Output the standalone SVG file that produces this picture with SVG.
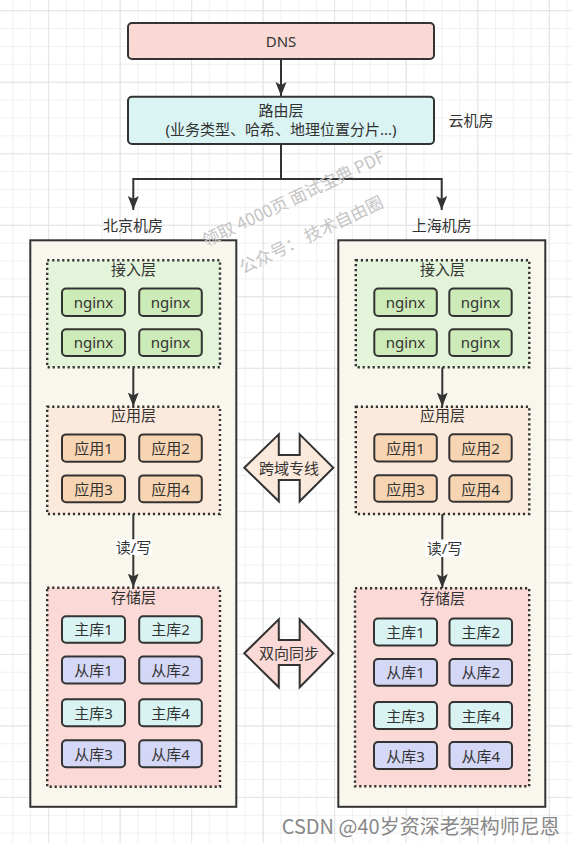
<svg xmlns="http://www.w3.org/2000/svg" width="572" height="843" viewBox="0 0 572 843">
<style>
text{font-family:"Noto Sans","Noto Sans CJK SC",sans-serif;font-size:15px;fill:#333;text-anchor:middle;dominant-baseline:central}
.box{stroke:#333;stroke-width:2}
.outer{fill:#f9f7ed;stroke:#333;stroke-width:2}
.layer{stroke:#333;stroke-width:2.4;stroke-dasharray:2.2 2.8}
.edge{fill:none;stroke:#333;stroke-width:2}
.dns{fill:#fad9d5}
.route{fill:#daf3f3}
.acc{fill:#e4f4da}
.ngx{fill:#cdebb8}
.app{fill:#fbe9db}
.appb{fill:#f8d5b2}
.sto{fill:#fad9d6}
.mst{fill:#d9f3f2}
.slv{fill:#d5d7f6}
.wm{font-family:"Noto Sans CJK SC",sans-serif;font-size:17px;fill:#c4c4c4;text-anchor:start;dominant-baseline:alphabetic}
.foot{font-family:"Noto Sans CJK SC",sans-serif;font-size:20px;fill:#888;text-anchor:start}
</style>
<defs>
<pattern id="gmin" x="12.2" y="10.2" width="17.88" height="17.88" patternUnits="userSpaceOnUse">
<path d="M0.5,0V17.88M0,0.5H17.88" stroke="#f0f0f0" stroke-width="1" fill="none"/>
</pattern>
<pattern id="gmaj" x="48.2" y="10.2" width="71.52" height="71.52" patternUnits="userSpaceOnUse">
<path d="M0.5,0V71.52M0,0.5H71.52" stroke="#e4e4e4" stroke-width="1" fill="none"/>
</pattern>
<marker id="arr" markerUnits="userSpaceOnUse" markerWidth="15" markerHeight="12" refX="14" refY="5.5" orient="auto">
<path d="M0,0 L14,5.5 L0,11 L3,5.5 Z" fill="#333"/>
</marker>
</defs>
<rect width="572" height="843" fill="#fff"/>
<rect width="572" height="843" fill="url(#gmin)"/>
<rect width="572" height="843" fill="url(#gmaj)"/>

<g id="dns"><rect class="box dns" x="128" y="23" width="306" height="36" rx="4"/><text x="281" y="40.5">DNS</text></g>
<g id="routing"><rect class="box route" x="128" y="96.7" width="306" height="47.3" rx="4"/><text x="281" y="110">路由层</text><text x="281" y="129">(业务类型、哈希、地理位置分片...)</text></g>
<g id="cloud-label"><text x="471" y="120">云机房</text></g>

<g id="beijing">
<rect class="outer" x="30.3" y="240.3" width="206" height="566.5"/>
<text x="133" y="225">北京机房</text>
</g>
<g id="shanghai">
<rect class="outer" x="338.3" y="240.3" width="207" height="566.5"/>
<text x="441.7" y="225">上海机房</text>
</g>

<g id="bj-access">
<rect class="layer acc" x="47.2" y="260.3" width="172.8" height="107"/>
<text x="133.6" y="269.3">接入层</text>
<g id="bj-nginx1"><rect class="box ngx" x="62" y="288.5" width="63" height="27.5" rx="4"/><text x="93.5" y="302">nginx</text></g>
<g id="bj-nginx2"><rect class="box ngx" x="139.2" y="288.5" width="62.6" height="27.5" rx="4"/><text x="170.5" y="302">nginx</text></g>
<g id="bj-nginx3"><rect class="box ngx" x="62" y="329.3" width="63" height="26.7" rx="4"/><text x="93.5" y="342.3">nginx</text></g>
<g id="bj-nginx4"><rect class="box ngx" x="139.2" y="329.3" width="62.6" height="26.7" rx="4"/><text x="170.5" y="342.3">nginx</text></g>
</g>
<g id="bj-app">
<rect class="layer app" x="47.2" y="406.7" width="172.8" height="107.3"/>
<text x="133.6" y="415">应用层</text>
<g id="bj-app1"><rect class="box appb" x="62" y="434.4" width="63" height="27.4" rx="4"/><text x="93.5" y="448.1">应用1</text></g>
<g id="bj-app2"><rect class="box appb" x="139.2" y="434.4" width="62.6" height="27.4" rx="4"/><text x="170.5" y="448.1">应用2</text></g>
<g id="bj-app3"><rect class="box appb" x="62" y="475.4" width="63" height="26.8" rx="4"/><text x="93.5" y="488.8">应用3</text></g>
<g id="bj-app4"><rect class="box appb" x="139.2" y="475.4" width="62.6" height="26.8" rx="4"/><text x="170.5" y="488.8">应用4</text></g>
</g>
<g id="bj-storage">
<rect class="layer sto" x="47.2" y="587.7" width="172.8" height="199"/>
<text x="133.6" y="597">存储层</text>
<g id="bj-m1"><rect class="box mst" x="62" y="616.2" width="63" height="26.5" rx="4"/><text x="93.5" y="629.4">主库1</text></g>
<g id="bj-m2"><rect class="box mst" x="139.2" y="616.2" width="62.6" height="26.5" rx="4"/><text x="170.5" y="629.4">主库2</text></g>
<g id="bj-s1"><rect class="box slv" x="62" y="656.5" width="63" height="27" rx="4"/><text x="93.5" y="670">从库1</text></g>
<g id="bj-s2"><rect class="box slv" x="139.2" y="656.5" width="62.6" height="27" rx="4"/><text x="170.5" y="670">从库2</text></g>
<g id="bj-m3"><rect class="box mst" x="62" y="699.2" width="63" height="27" rx="4"/><text x="93.5" y="712.7">主库3</text></g>
<g id="bj-m4"><rect class="box mst" x="139.2" y="699.2" width="62.6" height="27" rx="4"/><text x="170.5" y="712.7">主库4</text></g>
<g id="bj-s3"><rect class="box slv" x="62" y="740.2" width="63" height="27" rx="4"/><text x="93.5" y="753.7">从库3</text></g>
<g id="bj-s4"><rect class="box slv" x="139.2" y="740.2" width="62.6" height="27" rx="4"/><text x="170.5" y="753.7">从库4</text></g>
</g>

<g id="sh-access">
<rect class="layer acc" x="355.8" y="260.3" width="173.5" height="107"/>
<text x="442.5" y="269.3">接入层</text>
<g id="sh-nginx1"><rect class="box ngx" x="374.3" y="288.5" width="62.5" height="27.5" rx="4"/><text x="405.5" y="302">nginx</text></g>
<g id="sh-nginx2"><rect class="box ngx" x="449.3" y="288.5" width="62.4" height="27.5" rx="4"/><text x="480.5" y="302">nginx</text></g>
<g id="sh-nginx3"><rect class="box ngx" x="374.3" y="329.3" width="62.5" height="26.7" rx="4"/><text x="405.5" y="342.3">nginx</text></g>
<g id="sh-nginx4"><rect class="box ngx" x="449.3" y="329.3" width="62.4" height="26.7" rx="4"/><text x="480.5" y="342.3">nginx</text></g>
</g>
<g id="sh-app">
<rect class="layer app" x="355.8" y="406.7" width="173.5" height="107.3"/>
<text x="442.5" y="415">应用层</text>
<g id="sh-app1"><rect class="box appb" x="374.3" y="434.3" width="62.5" height="27.2" rx="4"/><text x="405.5" y="448">应用1</text></g>
<g id="sh-app2"><rect class="box appb" x="449.3" y="434.3" width="62.4" height="27.2" rx="4"/><text x="480.5" y="448">应用2</text></g>
<g id="sh-app3"><rect class="box appb" x="374.3" y="475.3" width="62.5" height="26.4" rx="4"/><text x="405.5" y="488.6">应用3</text></g>
<g id="sh-app4"><rect class="box appb" x="449.3" y="475.3" width="62.4" height="26.4" rx="4"/><text x="480.5" y="488.6">应用4</text></g>
</g>
<g id="sh-storage">
<rect class="layer sto" x="355" y="588.3" width="174.2" height="198"/>
<text x="442.5" y="597.5">存储层</text>
<g id="sh-m1"><rect class="box mst" x="374" y="618.5" width="63" height="27" rx="4"/><text x="405.5" y="632">主库1</text></g>
<g id="sh-m2"><rect class="box mst" x="449.5" y="618.5" width="62.5" height="27" rx="4"/><text x="480.7" y="632">主库2</text></g>
<g id="sh-s1"><rect class="box slv" x="374" y="659" width="63" height="26.7" rx="4"/><text x="405.5" y="672.3">从库1</text></g>
<g id="sh-s2"><rect class="box slv" x="449.5" y="659" width="62.5" height="26.7" rx="4"/><text x="480.7" y="672.3">从库2</text></g>
<g id="sh-m3"><rect class="box mst" x="374" y="702" width="63" height="27" rx="4"/><text x="405.5" y="715.5">主库3</text></g>
<g id="sh-m4"><rect class="box mst" x="449.5" y="702" width="62.5" height="27" rx="4"/><text x="480.7" y="715.5">主库4</text></g>
<g id="sh-s3"><rect class="box slv" x="374" y="742" width="63" height="27" rx="4"/><text x="405.5" y="755.5">从库3</text></g>
<g id="sh-s4"><rect class="box slv" x="449.5" y="742" width="62.5" height="27" rx="4"/><text x="480.7" y="755.5">从库4</text></g>
</g>

<g id="cross-line">
<polygon class="box app" points="244.3,467.7 278.8,434.3 278.8,455 299.7,455 299.7,434.3 333.3,467.7 299.7,501.3 299.7,480 278.8,480 278.8,501.3"/>
<text x="289" y="467.5">跨域专线</text>
</g>
<g id="sync">
<polygon class="box sto" points="244.3,653.3 278.8,619.3 278.8,640 299.7,640 299.7,619.3 333.3,653.3 299.7,687.3 299.7,665 278.8,665 278.8,687.3"/>
<text x="289" y="653">双向同步</text>
</g>

<g id="connectors">
<path class="edge" d="M281,59 V96" marker-end="url(#arr)"/>
<path class="edge" d="M281,144 V179 H133.3 V210" marker-end="url(#arr)"/>
<path class="edge" d="M281,144 V179 H441.7 V210" marker-end="url(#arr)"/>
<path class="edge" d="M281,144 V179" stroke-width="3"/>
<path class="edge" d="M133.3,367.3 V406.5" marker-end="url(#arr)"/>
<path class="edge" d="M442.3,367.3 V406.5" marker-end="url(#arr)"/>
<path class="edge" d="M133.3,514 V587.5" marker-end="url(#arr)"/>
<path class="edge" d="M442.3,514 V588" marker-end="url(#arr)"/>
<rect x="115.5" y="539.3" width="36.5" height="15.5" fill="#fff"/>
<text x="133.5" y="547">读/写</text>
<rect x="425" y="539.5" width="39" height="17.5" fill="#fff"/>
<text x="444.5" y="548">读/写</text>
</g>

<g id="watermark">
<text class="wm" x="206" y="247" transform="rotate(-25.5 206 247)">领取 4000页 面试宝典 PDF</text>
<text class="wm" x="243" y="274" transform="rotate(-25.5 243 274)">公众号： 技术自由圈</text>
</g>
<text class="foot" x="281.7" y="825">CSDN @40岁资深老架构师尼恩</text>
</svg>
